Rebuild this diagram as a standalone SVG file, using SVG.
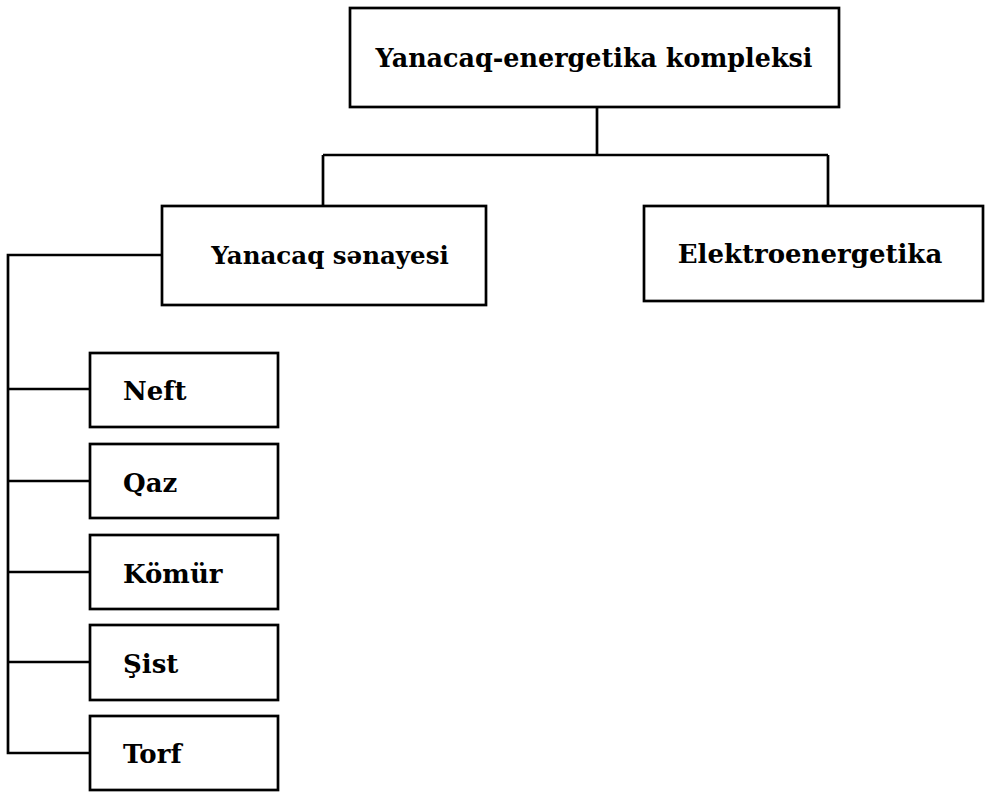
<svg xmlns="http://www.w3.org/2000/svg" width="994" height="793" viewBox="0 0 994 793">
<style>
.box{fill:#fff;stroke:#000;stroke-width:2.7}
.ln{fill:none;stroke:#000;stroke-width:2.7}
.t{font-family:"DejaVu Serif","Liberation Serif",serif;font-weight:bold;font-size:26px;fill:#000}
.c{text-anchor:middle}
</style>
<rect width="994" height="793" fill="#fff"/>
<g id="connectors">
<path class="ln" d="M597,107 V155 M323,155 H828 M323,155 V206 M828,155 V206"/>
<path class="ln" d="M162,255 H8 V753 H90 M8,389 H90 M8,481 H90 M8,572 H90 M8,662 H90"/>
</g>
<g id="n-top"><rect class="box" x="350" y="8" width="489" height="99"/><text class="t c" x="594" y="67" textLength="437" lengthAdjust="spacingAndGlyphs">Yanacaq-energetika kompleksi</text></g>
<g id="n-yan"><rect class="box" x="162" y="206" width="324" height="99"/><text class="t c" x="330" y="264" style="font-size:24.5px">Yanacaq sənayesi</text></g>
<g id="n-ele"><rect class="box" x="644" y="206" width="339" height="95"/><text class="t c" x="810" y="263">Elektroenergetika</text></g>
<g id="n-neft"><rect class="box" x="90" y="353" width="188" height="74"/><text class="t" x="123" y="400">Neft</text></g>
<g id="n-qaz"><rect class="box" x="90" y="444" width="188" height="74"/><text class="t" x="123" y="492">Qaz</text></g>
<g id="n-komur"><rect class="box" x="90" y="535" width="188" height="74"/><text class="t" x="123" y="583">Kömür</text></g>
<g id="n-sist"><rect class="box" x="90" y="625" width="188" height="75"/><text class="t" x="123" y="673">Şist</text></g>
<g id="n-torf"><rect class="box" x="90" y="716" width="188" height="74"/><text class="t" x="123" y="763">Torf</text></g>
</svg>
